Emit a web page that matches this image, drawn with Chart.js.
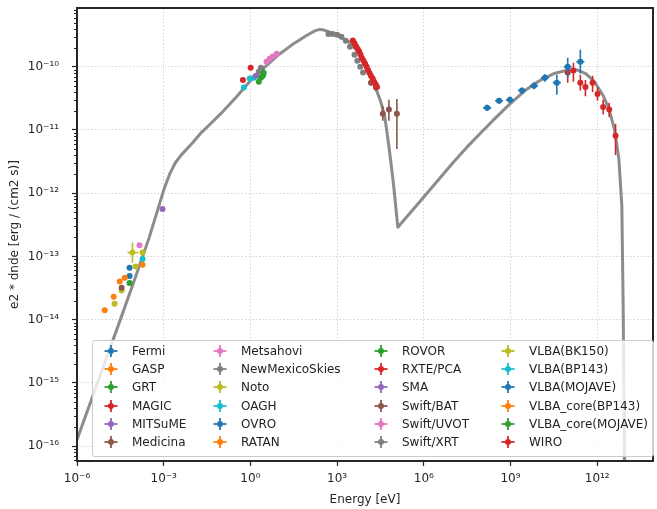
<!DOCTYPE html>
<html>
<head>
<meta charset="utf-8">
<script src="https://cdn.jsdelivr.net/npm/chart.js@4.4.1/dist/chart.umd.min.js"></script>
<style>
  body { margin: 0; background: #fff; }
  #wrap { position: relative; width: 657px; height: 509px; }
  #legend {
    position: absolute; left: 92px; top: 340px; width: 562px; height: 117px;
    box-sizing: border-box; background: rgba(255, 255, 255, 0.8);
    border: 1px solid #cccccc; border-radius: 3px;
    font-family: 'DejaVu Sans', sans-serif; font-size: 12px; color: #222;
  }
  .item { position: absolute; height: 14px; line-height: 14px; white-space: nowrap; }
  .item svg { position: absolute; left: 0; top: 0; }
  .item span { position: absolute; top: 0; }
</style>
</head>
<body>
<div id="wrap">
  <canvas id="sed" width="657" height="509"></canvas>
  <div id="legend"></div>
</div>
<script>
// ===== SED of the source: model curve + flux points per instrument =====

// axis ticks
const X_TICKS = [1e-6, 1e-3, 1, 1e3, 1e6, 1e9, 1e12];
const X_TICK_LABELS = ['10⁻⁶', '10⁻³', '10⁰', '10³', '10⁶', '10⁹', '10¹²'];
const Y_TICKS = [1e-16, 1e-15, 1e-14, 1e-13, 1e-12, 1e-11, 1e-10];
const Y_TICK_LABELS = ['10⁻¹⁶', '10⁻¹⁵', '10⁻¹⁴', '10⁻¹³', '10⁻¹²', '10⁻¹¹', '10⁻¹⁰'];

// model curve (energy [eV], e2 * dnde [erg / (cm2 s)])
const MODEL_E = [1e-6, 3.16e-6, 1e-5, 3.16e-5, 1e-4, 3.16e-4, 1e-3, 1.6e-3, 2.5e-3, 4e-3,
  6.3e-3, 1e-2, 2e-2, 4e-2, 0.1, 0.32, 1, 3.2, 10, 32, 100, 170, 251, 350, 500, 1000, 2500,
  5000, 7900, 1.26e4, 2e4, 3.16e4, 4.5e4, 6.3e4, 8.9e4, 1.26e5,
  1e6, 1e7, 3.16e7, 1e8, 3.16e8, 1e9, 3.16e9, 1e10, 3.16e10, 1e11, 2e11, 4e11, 8e11,
  1.6e12, 2.5e12, 4e12, 5.6e12, 7.1e12, 7.9e12, 8.5e12, 8.9e12];
const MODEL_F = [1.26e-16, 5.4e-16, 2.34e-15, 1.0e-14, 4.4e-14, 2.0e-13, 1.12e-12, 2.0e-12,
  3.0e-12, 4.0e-12, 5.0e-12, 6.3e-12, 9.1e-12, 1.23e-11, 1.86e-11, 3.3e-11, 6.0e-11, 1.0e-10,
  1.58e-10, 2.34e-10, 3.24e-10, 3.7e-10, 3.9e-10, 3.8e-10, 3.6e-10, 3.16e-10, 2.5e-10,
  1.8e-10, 1.26e-10, 8.3e-11, 5.0e-11, 2.9e-11, 1.58e-11, 5.2e-12, 1.41e-12, 2.9e-13,
  8.7e-13, 3.0e-12, 5.4e-12, 9.3e-12, 1.58e-11, 2.63e-11, 4.2e-11, 6.0e-11, 7.8e-11,
  8.9e-11, 8.9e-11, 7.8e-11, 5.8e-11, 3.5e-11, 2.2e-11, 1.0e-11, 3.5e-12, 6.3e-13,
  1.6e-14, 3.2e-16, 1e-17];

// flux points: [E, F] or [E, F, Elo, Ehi, Flo, Fhi]
const FERMI = [
  [1.55e8, 2.24e-11, 1.12e8, 2.14e8, 2.0e-11, 2.5e-11],
  [4.0e8, 2.9e-11, 2.9e8, 5.5e8, 2.6e-11, 3.2e-11],
  [9.5e8, 3.0e-11, 6.9e8, 1.3e9, 2.7e-11, 3.35e-11],
  [2.5e9, 4.2e-11, 1.8e9, 3.45e9, 3.75e-11, 4.7e-11],
  [6.5e9, 5.0e-11, 4.7e9, 9.0e9, 4.4e-11, 5.7e-11],
  [1.55e10, 6.7e-11, 1.12e10, 2.14e10, 5.8e-11, 7.7e-11],
  [4.0e10, 5.6e-11, 2.9e10, 5.5e10, 3.6e-11, 7.5e-11],
  [9.5e10, 1.0e-10, 6.9e10, 1.3e11, 6.7e-11, 1.39e-10],
  [2.6e11, 1.2e-10, 1.9e11, 3.6e11, 7.8e-11, 1.86e-10],
];
const GASP = [[4.5e-5, 4.6e-14, 4.0e-5, 5.1e-5, 4.3e-14, 4.9e-14]];
const GRT = [[2.3e0, 6.7e-11], [2.9e0, 8.0e-11]];
const MAGIC = [
  [9.5e10, 8.1e-11, 8.1e10, 1.11e11, 5.6e-11, 1.08e-10],
  [1.5e11, 8.7e-11, 1.28e11, 1.76e11, 5.8e-11, 1.16e-10],
  [2.6e11, 5.6e-11, 2.2e11, 3.0e11, 4.2e-11, 7.5e-11],
  [3.9e11, 4.8e-11, 3.3e11, 4.6e11, 3.4e-11, 6.2e-11],
  [6.9e11, 5.6e-11, 5.9e11, 8.1e11, 4.0e-11, 7.2e-11],
  [1.02e12, 3.7e-11, 8.7e11, 1.2e12, 2.9e-11, 4.7e-11],
  [1.6e12, 2.3e-11, 1.37e12, 1.87e12, 1.75e-11, 3.0e-11],
  [2.6e12, 2.1e-11, 2.2e12, 3.0e12, 1.6e-11, 2.7e-11],
  [4.3e12, 8.1e-12, 3.7e12, 5.0e12, 4.0e-12, 1.25e-11],
];
const MITSUME = [[1.55e0, 7.2e-11]];
const MEDICINA = [[3.5e-5, 3.2e-14]];
const METSAHOVI = [[1.45e-4, 1.5e-13]];
const NEWMEXICOSKIES = [[2.3e0, 9.6e-11], [1.95e0, 8.3e-11]];
const NOTO = [[2.0e-5, 1.78e-14], [3.5e-5, 2.9e-14]];
const OAGH = [[0.59, 4.7e-11], [0.95, 6.5e-11], [1.32, 6.7e-11]];
const OVRO = [[6.6e-5, 4.9e-14]];
const RATAN = [
  [9.1e-6, 1.41e-14, 7.6e-6, 1.09e-5, 1.33e-14, 1.5e-14],
  [1.86e-5, 2.3e-14, 1.6e-5, 2.15e-5, 2.15e-14, 2.45e-14],
  [3.0e-5, 4.0e-14, 2.65e-5, 3.4e-5, 3.7e-14, 4.3e-14],
];
const ROVOR = [[1.95e0, 5.8e-11], [2.45e0, 9.0e-11], [2.7e0, 7.2e-11]];
const RXTE_PCA = [
  [3.5e3, 2.6e-10], [4.0e3, 2.35e-10], [4.6e3, 2.1e-10], [5.2e3, 1.9e-10], [5.8e3, 1.74e-10],
  [6.5e3, 1.55e-10], [7.2e3, 1.38e-10], [8.2e3, 1.25e-10], [9.3e3, 1.12e-10], [1.05e4, 1.0e-10],
  [1.17e4, 8.9e-11], [1.32e4, 8.0e-11], [1.48e4, 7.2e-11], [1.7e4, 6.5e-11], [1.9e4, 5.8e-11],
  [2.15e4, 5.3e-11], [2.4e4, 4.8e-11],
];
const SMA = [[9.1e-4, 5.6e-13]];
const SWIFT_BAT = [
  [1.48e4, 5.6e-11, 1.3e4, 1.7e4, 5.0e-11, 6.3e-11],
  [2.2e4, 4.7e-11, 1.9e4, 2.5e4, 4.2e-11, 5.3e-11],
  [3.8e4, 1.8e-11, 3.3e4, 4.4e4, 1.4e-11, 2.4e-11],
  [6.2e4, 2.1e-11, 5.4e4, 7.1e4, 1.4e-11, 3.0e-11],
  [1.17e5, 1.8e-11, 1.0e5, 1.35e5, 5.0e-12, 3.1e-11],
];
const SWIFT_UVOT = [[3.6e0, 1.2e-10], [4.6e0, 1.34e-10], [5.9e0, 1.45e-10], [8.1e0, 1.6e-10]];
const SWIFT_XRT = [
  [5.0e2, 3.3e-10], [7.1e2, 3.3e-10], [1.0e3, 3.2e-10], [1.4e3, 2.97e-10], [2.0e3, 2.57e-10],
  [2.8e3, 2.08e-10], [4.0e3, 1.55e-10], [5.0e3, 1.24e-10], [6.3e3, 1.0e-10], [7.9e3, 8.1e-11],
];
const VLBA_BK150 = [
  [8.3e-5, 1.15e-13, 5.6e-5, 1.35e-4, 7.9e-14, 1.66e-13],
  [1.07e-4, 6.9e-14],
  [1.86e-4, 1.15e-13],
];
const VLBA_BP143 = [[1.86e-4, 9.1e-14]];
const VLBA_MOJAVE = [[6.6e-5, 6.6e-14]];
const VLBA_CORE_BP143 = [[1.86e-4, 7.4e-14]];
const VLBA_CORE_MOJAVE = [[6.6e-5, 3.8e-14]];
const WIRO = [
  [0.55, 6.2e-11, 0.48, 0.63, 6.0e-11, 6.4e-11],
  [1.02, 9.6e-11, 0.92, 1.12, 9.3e-11, 9.9e-11],
];

const INSTRUMENTS = ['Fermi', 'GASP', 'GRT', 'MAGIC', 'MITSuME', 'Medicina', 'Metsahovi',
  'NewMexicoSkies', 'Noto', 'OAGH', 'OVRO', 'RATAN', 'ROVOR', 'RXTE/PCA', 'SMA', 'Swift/BAT',
  'Swift/UVOT', 'Swift/XRT', 'VLBA(BK150)', 'VLBA(BP143)', 'VLBA(MOJAVE)', 'VLBA_core(BP143)',
  'VLBA_core(MOJAVE)', 'WIRO'];
const SERIES = [FERMI, GASP, GRT, MAGIC, MITSUME, MEDICINA, METSAHOVI, NEWMEXICOSKIES, NOTO,
  OAGH, OVRO, RATAN, ROVOR, RXTE_PCA, SMA, SWIFT_BAT, SWIFT_UVOT, SWIFT_XRT, VLBA_BK150,
  VLBA_BP143, VLBA_MOJAVE, VLBA_CORE_BP143, VLBA_CORE_MOJAVE, WIRO];

const TAB10 = ['#1f77b4', '#ff7f0e', '#2ca02c', '#d62728', '#9467bd',
  '#8c564b', '#e377c2', '#7f7f7f', '#bcbd22', '#17becf'];

// error bars drawn under each dataset's markers
const errorBars = {
  id: 'errorBars',
  beforeDatasetDraw(chart, args) {
    const ds = chart.data.datasets[args.index];
    if (!ds.isFlux) return;
    const xs = chart.scales.x, ys = chart.scales.y, ctx = chart.ctx;
    ctx.save();
    ctx.strokeStyle = ds.backgroundColor;
    ctx.lineWidth = 1.6;
    ds.data.forEach((p) => {
      if (p.xlo == null) return;
      const px = xs.getPixelForValue(p.x), py = ys.getPixelForValue(p.y);
      ctx.beginPath();
      ctx.moveTo(xs.getPixelForValue(p.xlo), py);
      ctx.lineTo(xs.getPixelForValue(p.xhi), py);
      ctx.moveTo(px, ys.getPixelForValue(p.ylo));
      ctx.lineTo(px, ys.getPixelForValue(p.yhi));
      ctx.stroke();
    });
    ctx.restore();
  },
};

// full frame + minor log ticks on the y axis
const frame = {
  id: 'frame',
  afterDraw(chart) {
    const { ctx, chartArea: a } = chart;
    const ys = chart.scales.y;
    ctx.save();
    ctx.strokeStyle = '#262626';
    ctx.lineWidth = 1;
    for (let k = -17; k <= -10; k++) {
      for (let m = 2; m <= 9; m++) {
        const v = m * Math.pow(10, k);
        if (v < ys.min || v > ys.max) continue;
        const py = Math.round(ys.getPixelForValue(v)) + 0.5;
        ctx.beginPath();
        ctx.moveTo(a.left - 3, py);
        ctx.lineTo(a.left, py);
        ctx.stroke();
      }
    }
    ctx.lineWidth = 2;
    ctx.strokeRect(a.left, a.top, a.right - a.left, a.bottom - a.top);
    ctx.restore();
  },
};

const toPoints = (rows) => rows.map((r) => ({
  x: r[0], y: r[1], xlo: r[2], xhi: r[3], ylo: r[4], yhi: r[5],
}));

const datasets = SERIES.map((rows, i) => ({
  label: INSTRUMENTS[i],
  data: toPoints(rows),
  isFlux: true,
  backgroundColor: TAB10[i % 10],
  pointRadius: 3,
  pointBorderWidth: 0,
  showLine: false,
}));

datasets.push({
  label: 'model',
  data: MODEL_E.map((e, i) => ({ x: e, y: MODEL_F[i] })),
  showLine: true,
  borderColor: 'rgba(128, 128, 128, 0.9)',
  borderWidth: 3,
  borderJoinStyle: 'round',
  pointRadius: 0,
  tension: 0,
});

const tickFont = { family: 'DejaVu Sans', size: 12 };
const noPad = (s) => { s.paddingTop = 0; s.paddingBottom = 0; s.paddingLeft = 0; s.paddingRight = 0; };

new Chart(document.getElementById('sed').getContext('2d'), {
  type: 'scatter',
  data: { datasets },
  options: {
    responsive: false,
    animation: false,
    devicePixelRatio: 1,
    layout: { padding: { top: 8, right: 0, left: 0, bottom: 0 } },
    plugins: { legend: { display: false }, tooltip: { enabled: false } },
    scales: {
      x: {
        type: 'logarithmic',
        min: 1e-6,
        max: 8.5e13,
        afterFit: (s) => { s.height = 48; noPad(s); },
        afterBuildTicks: (s) => { s.ticks = X_TICKS.map((v) => ({ value: v })); },
        ticks: {
          autoSkip: false, maxRotation: 0, padding: 6, color: '#262626', font: tickFont,
          callback: (v, i) => X_TICK_LABELS[i],
        },
        grid: { color: '#cfcfcf', lineWidth: 0.9, tickLength: 5, tickColor: '#262626', tickWidth: 1.2 },
        border: { display: false, dash: [1.5, 2] },
        title: {
          display: true, text: 'Energy [eV]', color: '#262626',
          font: tickFont, padding: { top: 0, bottom: 2 },
        },
      },
      y: {
        type: 'logarithmic',
        min: 5.8e-17,
        max: 8.5e-10,
        afterFit: (s) => { s.width = 77; noPad(s); },
        afterBuildTicks: (s) => { s.ticks = Y_TICKS.map((v) => ({ value: v })); },
        ticks: {
          autoSkip: false, padding: 13, color: '#262626', font: tickFont,
          callback: (v, i) => Y_TICK_LABELS[i],
        },
        grid: { color: '#cfcfcf', lineWidth: 0.9, tickLength: 5, tickColor: '#262626', tickWidth: 1.2 },
        border: { display: false, dash: [1.5, 2] },
        title: {
          display: true, text: 'e2 * dnde [erg / (cm2 s)]', color: '#262626',
          font: tickFont, padding: { top: 8, bottom: 0 },
        },
      },
    },
  },
  plugins: [errorBars, frame],
});

// legend: 4 columns, filled column by column
const legendCols = [18, 127, 288, 415];
const legendBox = document.getElementById('legend');
INSTRUMENTS.forEach((name, i) => {
  const col = Math.floor(i / 6), row = i % 6;
  const c = TAB10[i % 10];
  const item = document.createElement('div');
  item.className = 'item';
  item.style.left = (legendCols[col] - 8) + 'px';
  item.style.top = (3 + row * 18.2) + 'px';
  item.innerHTML =
    '<svg width="16" height="14"><line x1="1.5" y1="7" x2="14.5" y2="7" stroke="' + c + '" stroke-width="1.8"/>' +
    '<line x1="8" y1="1" x2="8" y2="13" stroke="' + c + '" stroke-width="1.8"/>' +
    '<circle cx="8" cy="7" r="3" fill="' + c + '"/></svg>' +
    '<span style="left:29px">' + name + '</span>';
  legendBox.appendChild(item);
});
</script>
</body>
</html>
